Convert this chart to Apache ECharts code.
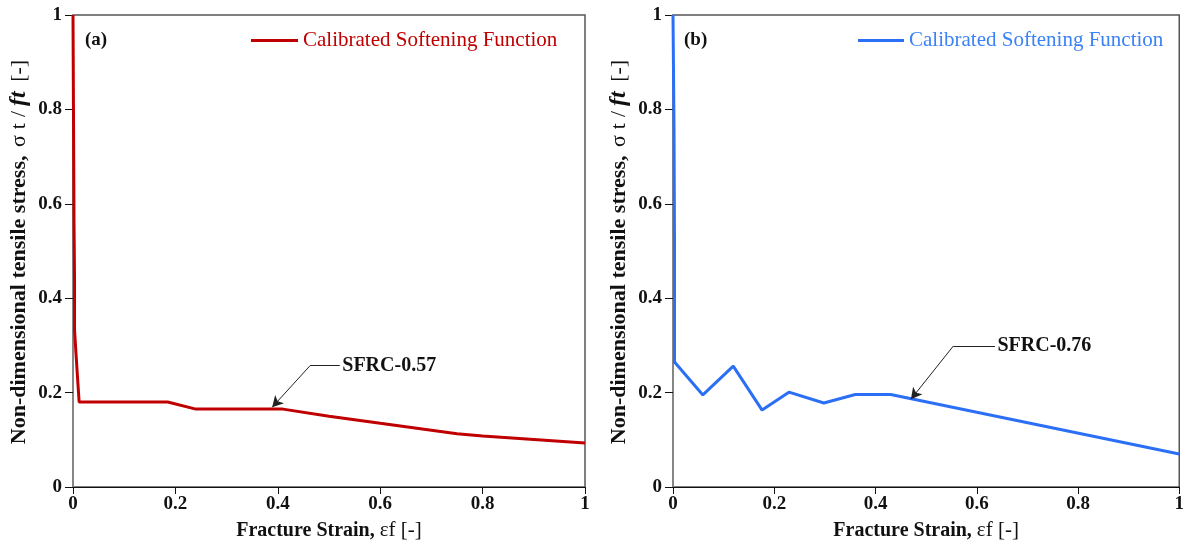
<!DOCTYPE html>
<html><head><meta charset="utf-8">
<script src="https://cdn.jsdelivr.net/npm/echarts@6/dist/echarts.min.js"></script>
<style>html,body{margin:0;padding:0;background:#fff}#c{width:1187px;height:546px}</style>
</head><body><div id="c"></div>
<script>
// ---- data ----
const xTickValues = [0, 0.2, 0.4, 0.6, 0.8, 1];
const xTickLabels = ['0', '0.2', '0.4', '0.6', '0.8', '1'];
const yTickValues = [0, 0.2, 0.4, 0.6, 0.8, 1];
const yTickLabels = ['0', '0.2', '0.4', '0.6', '0.8', '1'];

const strainA = [0, 0.001, 0.002, 0.003, 0.003, 0.006, 0.006, 0.009, 0.009, 0.012, 0.012, 0.185, 0.24, 0.41, 0.5, 0.6, 0.75, 0.8, 1];
const stressA = [1, 0.78, 0.56, 0.44, 0.333, 0.333, 0.28, 0.28, 0.229, 0.229, 0.18, 0.18, 0.165, 0.165, 0.15, 0.135, 0.113, 0.108, 0.093];

const strainB = [0, 0.002, 0.003, 0.003, 0.059, 0.119, 0.176, 0.229, 0.298, 0.36, 0.43, 1];
const stressB = [1, 0.76, 0.51, 0.265, 0.195, 0.256, 0.163, 0.201, 0.178, 0.196, 0.196, 0.07];

const seriesName = 'Calibrated Softening Function';
const panelLabels = ['(a)', '(b)'];
const annotLabels = ['SFRC-0.57', 'SFRC-0.76'];
const annotTipA = [0.389, 0.169], annotElbowA = [0.463, 0.257], annotEndA = [0.521, 0.257];
const annotTipB = [0.470, 0.186], annotElbowB = [0.554, 0.299], annotEndB = [0.636, 0.299];

const colA = '#C00000', colB = '#2B6FF7';
const FONT = '"Liberation Serif", "DejaVu Serif", serif';

function pairs(xs, ys) { return xs.map((x, i) => [x, ys[i]]); }
function fmt(vals, labels) { return v => { const i = vals.findIndex(t => Math.abs(t - v) < 1e-9); return i >= 0 ? labels[i] : ''; }; }

function xAxisCfg(gi) {
  return {
    type: 'value', gridIndex: gi, min: 0, max: 1, interval: 0.2,
    name: '{b|Fracture Strain,} {n|εf [-]}', nameLocation: 'middle', nameGap: 33,
    nameTextStyle: { fontFamily: FONT, fontSize: 20, color: '#111', rich: {
      b: { fontFamily: FONT, fontSize: 20, fontWeight: 'bold', color: '#111' },
      n: { fontFamily: FONT, fontSize: 21, color: '#111' } } },
    axisLine: { show: true, onZero: false, lineStyle: { color: '#111', width: 1 } },
    axisTick: { show: true, length: 7, lineStyle: { color: '#111' } },
    axisLabel: { fontFamily: FONT, fontSize: 19, fontWeight: 'bold', color: '#111', margin: 8, formatter: fmt(xTickValues, xTickLabels) },
    splitLine: { show: false }
  };
}
function yAxisCfg(gi) {
  return {
    type: 'value', gridIndex: gi, min: 0, max: 1, interval: 0.2,
    name: '{b|Non-dimensional tensile stress,} {s|σ}{s|t}{s|/}{i|ft} {n|[-]}', nameLocation: 'middle', nameGap: 42, nameRotate: 90,
    nameTextStyle: { fontFamily: FONT, fontSize: 22, color: '#111', rich: {
      b: { fontFamily: FONT, fontSize: 22, fontWeight: 'bold', color: '#111' },
      s: { fontFamily: FONT, fontSize: 22, color: '#111', padding: [0, 3] },
      n: { fontFamily: FONT, fontSize: 22, color: '#111', padding: [0, 2] },
      i: { fontFamily: FONT, fontSize: 24, fontWeight: 'bold', fontStyle: 'italic', color: '#111', padding: [0, 2] } } },
    axisLine: { show: true, onZero: false, lineStyle: { color: '#888', width: 1.5 } },
    axisTick: { show: true, length: 8, lineStyle: { color: '#111' } },
    axisLabel: { fontFamily: FONT, fontSize: 19, fontWeight: 'bold', color: '#111', margin: 11, formatter: fmt(yTickValues, yTickLabels) },
    splitLine: { show: false }
  };
}
function annot(tip, elbow, end, label) {
  return {
    markLine: {
      silent: true, animation: false, symbolSize: [9, 11],
      lineStyle: { color: '#222', width: 1, type: 'solid' },
      label: { show: false },
      data: [
        [{ coord: elbow, symbol: 'none' }, { coord: tip, symbol: 'arrow' }],
        [{ coord: end, symbol: 'none' }, { coord: elbow, symbol: 'none' }]
      ]
    },
    markPoint: {
      silent: true, animation: false, symbol: 'circle', symbolSize: 1,
      itemStyle: { color: 'rgba(0,0,0,0)' },
      data: [{ coord: end, label: { show: true, position: 'right', distance: 2, formatter: label,
        fontFamily: FONT, fontSize: 20, fontWeight: 'bold', color: '#111' } }]
    }
  };
}

const chart = echarts.init(document.getElementById('c'), null, { renderer: 'canvas' });
chart.setOption({
  animation: false,
  backgroundColor: '#fff',
  title: [
    { text: panelLabels[0], left: 80, top: 26, textStyle: { fontFamily: FONT, fontSize: 19, fontWeight: 'bold', color: '#111' } },
    { text: panelLabels[1], left: 679, top: 26, textStyle: { fontFamily: FONT, fontSize: 19, fontWeight: 'bold', color: '#111' } }
  ],
  legend: [
    { data: ['A'], left: 246, top: 25, icon: 'rect', itemWidth: 47, itemHeight: 3, itemGap: 6,
      formatter: () => seriesName, textStyle: { fontFamily: FONT, fontSize: 21, color: colA, padding: [0, 0, 0, 0] } },
    { data: ['B'], left: 853, top: 25, icon: 'rect', itemWidth: 46, itemHeight: 3, itemGap: 6,
      formatter: () => seriesName, textStyle: { fontFamily: FONT, fontSize: 21, color: '#3A82F6' } }
  ],
  grid: [
    { left: 73, right: 602, top: 15, bottom: 59, show: true, borderColor: '#555', borderWidth: 1.5, backgroundColor: 'transparent' },
    { left: 673, right: 3, top: 15, bottom: 59, show: true, borderColor: '#555', borderWidth: 1.5, backgroundColor: 'transparent' }
  ],
  xAxis: [xAxisCfg(0), xAxisCfg(1)],
  yAxis: [yAxisCfg(0), yAxisCfg(1)],
  series: [
    Object.assign({ name: 'A', type: 'line', xAxisIndex: 0, yAxisIndex: 0, data: pairs(strainA, stressA),
      symbol: 'none', lineStyle: { color: colA, width: 3 }, itemStyle: { color: colA }, z: 3 },
      annot(annotTipA, annotElbowA, annotEndA, annotLabels[0])),
    Object.assign({ name: 'B', type: 'line', xAxisIndex: 1, yAxisIndex: 1, data: pairs(strainB, stressB),
      symbol: 'none', lineStyle: { color: colB, width: 3 }, itemStyle: { color: colB }, z: 3 },
      annot(annotTipB, annotElbowB, annotEndB, annotLabels[1]))
  ]
});
</script></body></html>
